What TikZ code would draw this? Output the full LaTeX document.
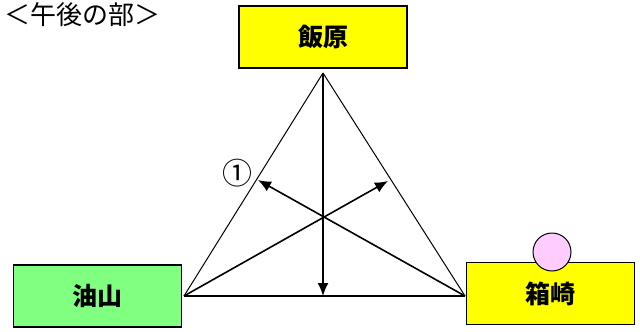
\documentclass[tikz,border=0pt]{standalone}
\usepackage{fontspec}
\newfontfamily\jpfont{Noto Sans CJK JP}
\usetikzlibrary{arrows.meta}
\definecolor{boxyellow}{RGB}{255,255,0}
\definecolor{boxgreen}{RGB}{128,255,128}
\definecolor{spotpink}{RGB}{255,204,255}
\begin{document}
\begin{tikzpicture}[x=1pt,y=-1pt]
	\tikzstyle{place}=[draw,line width=1.5pt,minimum width=168pt,minimum height=62pt,inner sep=0pt,font=\jpfont\bfseries\fontsize{25}{25}\selectfont]
	\tikzstyle{arr}=[line width=1.6pt,-{Latex[length=13pt,width=11pt]}]
	\useasboundingbox (0,0) rectangle (640,332);
	\node[anchor=north west,inner sep=0pt,font=\jpfont\fontsize{26}{26}\selectfont] (title) at (4,2) {＜午後の部＞};
	% corners and ends
	\coordinate (apex) at (323,73);
	\coordinate (left) at (184,296);
	\coordinate (right) at (465,296);
	\coordinate (base) at (323,296);
	\coordinate (onleft) at (258,180);
	\coordinate (onright) at (388,181);
	\draw[line width=1pt] (apex) -- (left);
	\draw[line width=1pt] (apex) -- (right);
	\draw[line width=1.6pt] (left) -- (right);
	\draw[arr] (apex) -- (base);
	\draw[arr] (right) -- (onleft);
	\draw[arr] (left) -- (onright);
	\node[font=\jpfont\fontsize{30}{30}\selectfont] (one) at (237,173) {①};
	\node[place,fill=boxyellow] (iihara) at (323,37) {飯原};
	\node[place,fill=boxgreen] (aburayama) at (97.5,296) {油山};
	\node[place,fill=boxyellow] (hakozaki) at (550.5,293.5) {箱崎};
	\node[draw,circle,line width=1pt,fill=spotpink,minimum size=38pt] (spot) at (552,252) {};
\end{tikzpicture}
\end{document}
